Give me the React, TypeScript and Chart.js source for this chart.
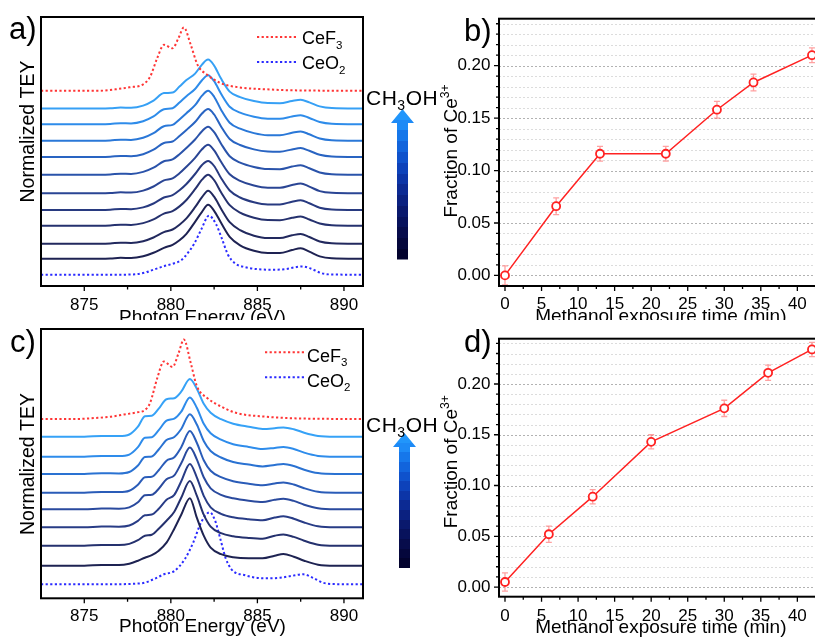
import React, { useEffect, useRef } from 'react';
import { Chart, registerables } from 'chart.js';

Chart.register(...registerables);

const FONT = '"Liberation Sans", Arial, Helvetica, sans-serif';
Chart.defaults.font.family = FONT;
Chart.defaults.color = '#000';

const RED_DOT = '#ff3535';
const BLUE_DOT = '#2b2bff';
const RED = '#ff2222';

// ---------------- panel a (spectra, intensities in a.u.) ----------------
const energyA = [872.5, 875, 876.5, 877.1, 877.7, 878.4, 879.0, 879.6, 880.1, 880.5, 880.9, 881.4, 881.8, 882.15, 882.5, 882.9, 883.4, 884.0, 884.8, 885.6, 886.3, 887.0, 887.5, 888.0, 888.6, 889.3, 891.1];
const a1 = [0, 0, 0.3, 1.0, 0.8, 3.0, 8.0, 15.5, 16.0, 22.0, 28.5, 35.0, 44.0, 49.0, 43.0, 30.0, 17.0, 11.5, 7.5, 5.5, 5.4, 7.6, 8.8, 6.2, 2.2, 0.5, 0];
const a2 = [0, 0, 0.3, 1.0, 0.8, 3.0, 7.8, 15.0, 16.0, 21.7, 28.0, 35.2, 44.0, 49.0, 43.0, 30.5, 17.5, 11.5, 7.5, 5.5, 5.4, 7.7, 9.0, 6.2, 2.2, 0.5, 0];
const a3 = [0, 0, 0.3, 1.0, 0.8, 2.9, 7.5, 14.5, 15.8, 21.3, 27.5, 35.5, 45.0, 50.0, 44.0, 31.0, 18.0, 12.0, 7.6, 5.5, 5.4, 7.9, 9.3, 6.4, 2.2, 0.5, 0];
const a4 = [0, 0, 0.3, 1.0, 0.8, 2.8, 7.3, 14.0, 15.5, 21.0, 27.0, 35.0, 43.5, 48.0, 42.5, 30.5, 18.0, 12.0, 7.6, 5.5, 5.3, 7.6, 8.9, 6.2, 2.2, 0.5, 0];
const a5 = [0, 0, 0.3, 1.0, 0.8, 2.8, 7.0, 13.5, 15.3, 20.5, 26.8, 35.2, 43.5, 48.0, 42.5, 31.0, 18.5, 12.0, 7.7, 5.6, 5.5, 8.1, 9.5, 6.5, 2.2, 0.5, 0];
const a6 = [0, 0, 0.3, 1.0, 0.8, 2.7, 6.8, 13.0, 15.0, 20.0, 26.5, 35.5, 44.0, 48.5, 43.0, 31.5, 19.0, 12.5, 7.8, 5.6, 5.6, 8.3, 9.8, 6.7, 2.2, 0.5, 0];
const a7 = [0, 0, 0.3, 1.0, 0.8, 2.6, 6.5, 12.5, 14.8, 19.7, 26.0, 36.0, 45.0, 49.0, 44.0, 32.0, 19.5, 12.5, 7.8, 5.6, 5.6, 8.3, 9.8, 6.7, 2.2, 0.5, 0];
const a8 = [0, 0, 0.3, 1.0, 0.8, 2.6, 6.3, 12.0, 14.5, 19.3, 25.7, 36.5, 46.0, 51.0, 45.5, 33.5, 20.5, 13.0, 7.9, 5.6, 5.5, 7.9, 9.1, 6.2, 2.2, 0.5, 0];
const a9 = [0, 0, 0.3, 1.0, 0.8, 2.5, 6.2, 11.5, 14.2, 19.0, 25.3, 36.5, 46.5, 53.0, 47.0, 35.0, 21.5, 13.5, 8.0, 5.6, 5.6, 8.4, 9.8, 6.7, 2.2, 0.5, 0];
const a10 = [0, 0, 0.3, 1.0, 0.8, 2.5, 6.0, 11.0, 14.0, 18.5, 25.0, 37.0, 47.0, 54.0, 48.0, 36.0, 22.0, 13.5, 8.0, 5.7, 5.7, 8.8, 10.6, 7.2, 2.4, 0.5, 0];
const cef3EnergyA = [872.5, 875.8, 876.8, 877.6, 878.4, 878.8, 879.2, 879.6, 880.1, 880.45, 880.75, 881.15, 881.55, 882.1, 882.9, 884.0, 885.5, 887.0, 891.1];
const cef3A = [0, 0, 1.5, 3.5, 6.5, 14, 32, 46, 42.5, 53, 63.3, 46, 25.7, 16, 7.5, 3.3, 1.5, 0.5, 0];
const ceo2EnergyA = [872.5, 877.0, 878.0, 878.6, 879.0, 879.6, 880.2, 880.6, 880.95, 881.35, 881.75, 882.2, 882.6, 882.95, 883.3, 883.7, 884.3, 884.9, 885.8, 886.6, 887.2, 887.6, 888.1, 888.7, 889.3, 891.1];
const ceo2A = [0, 0, 0.5, 2.5, 5.0, 8.5, 11.5, 14.5, 21, 31, 45, 59, 51, 36, 20, 11.5, 7.5, 5.7, 5.0, 5.5, 7.5, 8.3, 6.0, 1.5, 0.2, 0];
// vertical stacking offsets: CeF3, a1..a10, CeO2
const offsetsA = [195.2, 177.4, 161.8, 145.3, 129, 111.3, 92.7, 76, 60.3, 42.3, 27.2, 11.3];
const colorsA = ['#36a0f5', '#2e8cea', '#2a78d8', '#2964c2', '#2a53aa', '#2a4594', '#283a80', '#25316e', '#22295e', '#1e2252'];

// ---------------- panel c ----------------
const energyC = [872.5, 875.0, 876.0, 877.0, 877.6, 878.1, 878.5, 878.9, 879.3, 879.75, 880.2, 880.6, 881.1, 881.5, 881.9, 882.3, 882.9, 883.6, 884.5, 885.3, 886.0, 886.5, 887.1, 887.7, 888.5, 889.5, 891.1];
const c1 = [0, 0, 0.8, 0.6, 2.2, 10, 20.5, 21, 28, 37.5, 38.5, 45, 57.7, 48, 33, 24, 17.5, 13, 10, 7.8, 8.5, 9.3, 7.5, 4, 0.8, 0, 0];
const c2 = [0, 0, 0.8, 0.6, 2.1, 9.5, 19, 19.5, 26.5, 36, 38, 45, 59.3, 49, 33, 23.5, 17, 12.5, 9.8, 7.8, 8.8, 9.6, 7.7, 4.1, 0.8, 0, 0];
const c3 = [0, 0, 0.8, 0.6, 2.0, 8.5, 17, 17.5, 24.5, 34, 37, 45, 59.7, 49.5, 33, 23, 16.5, 12, 9.5, 7.6, 9, 10, 8, 4.3, 0.9, 0, 0];
const c4 = [0, 0, 0.8, 0.6, 2.0, 8, 15.5, 16, 22.5, 32, 35.5, 45.5, 61.7, 50, 32.5, 22, 15.5, 11.5, 9, 7.4, 9.2, 10.3, 8.2, 4.5, 0.9, 0, 0];
const c5 = [0, 0, 0.8, 0.6, 1.9, 7, 14, 14.5, 20.5, 30, 34, 46, 61.7, 50, 32, 21, 14.5, 11, 8.5, 7.2, 9.5, 10.6, 8.4, 4.6, 1, 0, 0];
const c6 = [0, 0, 0.8, 0.6, 1.8, 6.5, 12, 12.7, 18.5, 27.5, 32.5, 46, 63.3, 50, 31.5, 20, 13.5, 10, 8, 7, 9.7, 11, 8.6, 4.8, 1, 0, 0];
const c7 = [0, 0, 0.8, 0.6, 1.8, 5.5, 10, 11, 17, 25, 34, 48, 64.7, 50, 31, 19, 12.5, 9.5, 7.8, 7, 10, 11.3, 8.8, 5, 1, 0, 0];
const c8 = [0, 0, 0.7, 0.6, 2.0, 5, 8, 10.5, 15, 23, 37, 51, 67.5, 48, 30, 18, 11.5, 8.5, 7.5, 7.5, 10, 11.7, 9, 5, 1, 0, 0];
const cef3EnergyC = [872.5, 874.5, 875.6, 876.5, 877.3, 878.0, 878.5, 878.8, 879.2, 879.6, 880.1, 880.45, 880.75, 881.15, 881.5, 882.1, 882.9, 883.8, 885.5, 887.5, 891.1];
const cef3C = [0, 0, 1, 2.2, 4.5, 6.5, 9, 16, 40, 57.5, 52, 66, 79.5, 56, 33, 21, 12.5, 6, 2.3, 0.5, 0];
const ceo2EnergyC = [872.5, 876, 878.3, 879.0, 879.6, 880.2, 880.8, 881.3, 881.75, 882.25, 882.55, 882.85, 883.15, 883.5, 884.3, 885.4, 886.3, 887.0, 887.65, 888.2, 888.8, 889.5, 891.1];
const ceo2C = [0, 0, 1, 5, 10, 13.3, 25, 42, 62, 72, 64, 46, 27, 15, 9, 6, 6.5, 8.5, 10, 6.5, 1.5, 0.2, 0];
const offsetsC = [179.3, 161.6, 141.6, 124.3, 105.6, 89, 71, 52.6, 32.6, 14];
const colorsC = ['#36a2f7', '#2e8ceb', '#2a72d2', '#2a5cb8', '#2a4a9e', '#283c86', '#25316e', '#1e2352'];

const energyTicks = [875, 880, 885, 890];
const energyMinor = [877.5, 882.5, 887.5];

// ---------------- panels b and d ----------------
const timeB = [0, 7, 13, 22, 29, 34, 42];
const fracB = [0.0, 0.066, 0.116, 0.116, 0.158, 0.184, 0.21];
const errB = [0.009, 0.008, 0.007, 0.007, 0.008, 0.008, 0.007];
const timeD = [0, 6, 12, 20, 30, 36, 42];
const fracD = [0.005, 0.052, 0.089, 0.143, 0.176, 0.211, 0.234];
const errD = [0.009, 0.008, 0.007, 0.007, 0.008, 0.0075, 0.007];
const timeTicks = [0, 5, 10, 15, 20, 25, 30, 35, 40];
const timeMinor = [2.5, 7.5, 12.5, 17.5, 22.5, 27.5, 32.5, 37.5, 42.5];
const fracTicks = [0, 0.05, 0.1, 0.15, 0.2];
const fracGrid = [0, 0.01, 0.02, 0.03, 0.04, 0.05, 0.06, 0.07, 0.08, 0.09, 0.1, 0.11, 0.12, 0.13, 0.14, 0.15, 0.16, 0.17, 0.18, 0.19, 0.2, 0.21, 0.22, 0.23, 0.24];

type Part = { t: string; m?: 'sub' | 'sup' };
function drawRich(ctx: CanvasRenderingContext2D, parts: Part[], x: number, y: number, size: number, align: 'left' | 'center', rot = 0) {
  ctx.save();
  ctx.translate(x, y);
  if (rot) ctx.rotate(rot);
  ctx.textBaseline = 'alphabetic';
  ctx.textAlign = 'left';
  ctx.fillStyle = '#000';
  const sizes = parts.map((p) => (p.m ? size * 0.64 : size));
  const widths = parts.map((p, i) => {
    ctx.font = `${sizes[i]}px ${FONT}`;
    return ctx.measureText(p.t).width;
  });
  const total = widths.reduce((s, w) => s + w, 0);
  let cx = align === 'center' ? -total / 2 : 0;
  parts.forEach((p, i) => {
    ctx.font = `${sizes[i]}px ${FONT}`;
    const dy = p.m === 'sub' ? size * 0.24 : p.m === 'sup' ? -size * 0.42 : 0;
    ctx.fillText(p.t, cx, dy);
    cx += widths[i];
  });
  ctx.restore();
}

type SpecDeco = {
  label: string;
  labelXY: [number, number];
  yTitleXY: [number, number];
  xTitleXY: [number, number];
  legX0: number;
  legX1: number;
  legTX: number;
  legY: [number, number];
  legTY: [number, number];
};

function spectraDecor(d: SpecDeco) {
  return {
    id: 'spectraDecor',
    afterDraw(chart: any) {
      const { ctx, chartArea: a } = chart;
      const xs = chart.scales.x;
      ctx.save();
      ctx.setLineDash([]);
      ctx.strokeStyle = '#000';
      ctx.lineWidth = 1.3;
      ctx.beginPath();
      energyTicks.forEach((v) => {
        const p = xs.getPixelForValue(v);
        ctx.moveTo(p, a.bottom);
        ctx.lineTo(p, a.bottom + 5);
      });
      energyMinor.forEach((v) => {
        const p = xs.getPixelForValue(v);
        ctx.moveTo(p, a.bottom);
        ctx.lineTo(p, a.bottom + 3.5);
      });
      ctx.stroke();
      ctx.lineWidth = 2;
      ctx.strokeRect(a.left, a.top, a.right - a.left, a.bottom - a.top);
      // legend
      ctx.lineWidth = 2;
      ctx.setLineDash([2.2, 2.4]);
      [RED_DOT, BLUE_DOT].forEach((c, i) => {
        ctx.strokeStyle = c;
        ctx.beginPath();
        ctx.moveTo(d.legX0, d.legY[i]);
        ctx.lineTo(d.legX1, d.legY[i]);
        ctx.stroke();
      });
      ctx.setLineDash([]);
      drawRich(ctx, [{ t: 'CeF' }, { t: '3', m: 'sub' }], d.legTX, d.legTY[0], 18, 'left');
      drawRich(ctx, [{ t: 'CeO' }, { t: '2', m: 'sub' }], d.legTX, d.legTY[1], 18, 'left');
      drawRich(ctx, [{ t: d.label }], d.labelXY[0], d.labelXY[1], 31, 'left');
      drawRich(ctx, [{ t: 'Normalized TEY' }], d.yTitleXY[0], d.yTitleXY[1], 19.5, 'center', -Math.PI / 2);
      drawRich(ctx, [{ t: 'Photon Energy (eV)' }], d.xTitleXY[0], d.xTitleXY[1], 19, 'center');
      ctx.restore();
    },
  };
}

function stack(xs: number[], ys: number[], off: number) {
  return xs.map((x, i) => ({ x, y: ys[i] + off }));
}

type SpecOpts = {
  energy: number[];
  rows: number[][];
  colors: string[];
  offsets: number[];
  cef3E: number[];
  cef3: number[];
  ceo2E: number[];
  ceo2: number[];
  W: number;
  H: number;
  top: number;
  bottom: number;
  left: number;
  right: number;
  yMax: number;
  tickPad: number;
  deco: SpecDeco;
};

function spectraConfig(o: SpecOpts): any {
  const datasets: any[] = [];
  datasets.push({
    data: stack(o.cef3E, o.cef3, o.offsets[0]),
    borderColor: RED_DOT,
    borderDash: [2.2, 2.4],
    borderWidth: 2,
  });
  o.rows.forEach((r, i) =>
    datasets.push({ data: stack(o.energy, r, o.offsets[i + 1]), borderColor: o.colors[i], borderWidth: 2 })
  );
  datasets.push({
    data: stack(o.ceo2E, o.ceo2, o.offsets[o.offsets.length - 1]),
    borderColor: BLUE_DOT,
    borderDash: [2.2, 2.4],
    borderWidth: 2,
  });
  return {
    type: 'line',
    data: { datasets },
    options: {
      responsive: false,
      animation: false,
      devicePixelRatio: 1,
      layout: { autoPadding: false, padding: { left: 0, top: o.top, right: o.W - o.right, bottom: 0 } },
      plugins: { legend: { display: false }, tooltip: { enabled: false } },
      elements: { point: { radius: 0 }, line: { cubicInterpolationMode: 'monotone', fill: false } },
      scales: {
        x: {
          type: 'linear',
          min: 872.5,
          max: 891.1,
          afterBuildTicks: (s: any) => {
            s.ticks = energyTicks.map((v) => ({ value: v }));
          },
          afterFit: (s: any) => {
            s.height = o.H - o.bottom;
          },
          grid: { display: false, drawTicks: false },
          border: { display: false },
          ticks: {
            font: { size: 17 },
            color: '#000',
            padding: o.tickPad,
            autoSkip: false,
            maxRotation: 0,
            callback: (v: any) => String(v),
          },
        },
        y: {
          type: 'linear',
          min: 0,
          max: o.yMax,
          afterFit: (s: any) => {
            s.width = o.left;
          },
          grid: { display: false, drawTicks: false },
          border: { display: false },
          ticks: { display: false },
        },
      },
    },
    plugins: [spectraDecor(o.deco)],
  };
}

type FracDeco = {
  label: string;
  labelXY: [number, number];
  yTitleXY: [number, number];
  xTitleXY: [number, number];
};

function fracDecor(t: number[], f: number[], e: number[], d: FracDeco) {
  return {
    id: 'fracDecor',
    beforeDatasetsDraw(chart: any) {
      const { ctx, chartArea: a } = chart;
      const { x, y } = chart.scales;
      ctx.save();
      ctx.lineWidth = 1;
      ctx.setLineDash([2, 2]);
      fracGrid.forEach((v, i) => {
        const py = Math.round(y.getPixelForValue(v)) + 0.5;
        ctx.strokeStyle = i % 5 === 0 ? '#b2b2b2' : '#dcdcdc';
        ctx.beginPath();
        ctx.moveTo(a.left, py);
        ctx.lineTo(a.right, py);
        ctx.stroke();
      });
      ctx.setLineDash([]);
      ctx.strokeStyle = 'rgba(255,110,110,0.65)';
      ctx.lineWidth = 1.3;
      t.forEach((tv, i) => {
        const px = x.getPixelForValue(tv);
        const y1 = y.getPixelForValue(f[i] - e[i]);
        const y2 = y.getPixelForValue(f[i] + e[i]);
        ctx.beginPath();
        ctx.moveTo(px, y1);
        ctx.lineTo(px, y2);
        ctx.moveTo(px - 3, y1);
        ctx.lineTo(px + 3, y1);
        ctx.moveTo(px - 3, y2);
        ctx.lineTo(px + 3, y2);
        ctx.stroke();
      });
      ctx.restore();
    },
    afterDraw(chart: any) {
      const { ctx, chartArea: a } = chart;
      const { x, y } = chart.scales;
      ctx.save();
      ctx.strokeStyle = '#000';
      ctx.lineWidth = 1.3;
      ctx.beginPath();
      fracGrid.forEach((v, i) => {
        const py = y.getPixelForValue(v);
        const len = i % 5 === 0 ? 5 : 3;
        ctx.moveTo(a.left, py);
        ctx.lineTo(a.left - len, py);
      });
      timeTicks.forEach((v) => {
        const px = x.getPixelForValue(v);
        ctx.moveTo(px, a.bottom);
        ctx.lineTo(px, a.bottom + 5);
      });
      timeMinor.forEach((v) => {
        const px = x.getPixelForValue(v);
        ctx.moveTo(px, a.bottom);
        ctx.lineTo(px, a.bottom + 3);
      });
      ctx.stroke();
      ctx.lineWidth = 2;
      ctx.strokeRect(a.left, a.top, a.right - a.left, a.bottom - a.top);
      drawRich(ctx, [{ t: d.label }], d.labelXY[0], d.labelXY[1], 31, 'left');
      drawRich(ctx, [{ t: 'Fraction of Ce' }, { t: '3+', m: 'sup' }], d.yTitleXY[0], d.yTitleXY[1], 19, 'center', -Math.PI / 2);
      drawRich(ctx, [{ t: 'Methanol exposure time (min)' }], d.xTitleXY[0], d.xTitleXY[1], 19, 'center');
      ctx.restore();
    },
  };
}

type FracOpts = {
  t: number[];
  f: number[];
  e: number[];
  W: number;
  H: number;
  top: number;
  bottom: number;
  left: number;
  right: number;
  yMin: number;
  yMax: number;
  xPad: number;
  deco: FracDeco;
};

function fracConfig(o: FracOpts): any {
  return {
    type: 'line',
    data: {
      datasets: [
        {
          data: o.t.map((v, i) => ({ x: v, y: o.f[i] })),
          borderColor: RED,
          borderWidth: 1.5,
          pointRadius: 4,
          pointBorderWidth: 1.8,
          pointBackgroundColor: '#ffffff',
          pointBorderColor: RED,
          tension: 0,
        },
      ],
    },
    options: {
      responsive: false,
      animation: false,
      devicePixelRatio: 1,
      layout: { autoPadding: false, padding: { left: 0, top: o.top, right: o.W - o.right, bottom: 0 } },
      plugins: { legend: { display: false }, tooltip: { enabled: false } },
      scales: {
        x: {
          type: 'linear',
          min: -0.82,
          max: 43.92,
          afterBuildTicks: (s: any) => {
            s.ticks = timeTicks.map((v) => ({ value: v }));
          },
          afterFit: (s: any) => {
            s.height = o.H - o.bottom;
          },
          grid: { display: false, drawTicks: false },
          border: { display: false },
          ticks: { font: { size: 17 }, color: '#000', padding: o.xPad, autoSkip: false, maxRotation: 0, callback: (v: any) => String(v) },
        },
        y: {
          type: 'linear',
          min: o.yMin,
          max: o.yMax,
          afterBuildTicks: (s: any) => {
            s.ticks = fracTicks.map((v) => ({ value: v }));
          },
          afterFit: (s: any) => {
            s.width = o.left;
          },
          grid: { display: false, drawTicks: false },
          border: { display: false },
          ticks: { font: { size: 17 }, color: '#000', padding: 8.5, callback: (v: any) => Number(v).toFixed(2) },
        },
      },
    },
    plugins: [fracDecor(o.t, o.f, o.e, o.deco)],
  };
}

function ChartCanvas({ W, H, build }: { W: number; H: number; build: () => any }) {
  const ref = useRef<HTMLCanvasElement>(null);
  useEffect(() => {
    const chart = new Chart(ref.current as HTMLCanvasElement, build());
    return () => chart.destroy();
  }, []);
  return <canvas ref={ref} width={W} height={H} style={{ display: 'block', width: W, height: H }} />;
}

const buildA = () =>
  spectraConfig({
    energy: energyA,
    rows: [a1, a2, a3, a4, a5, a6, a7, a8, a9, a10],
    colors: colorsA,
    offsets: offsetsA,
    cef3E: cef3EnergyA,
    cef3: cef3A,
    ceo2E: ceo2EnergyA,
    ceo2: ceo2A,
    W: 370,
    H: 330,
    top: 17,
    bottom: 286,
    left: 41,
    right: 363,
    yMax: 269,
    tickPad: 9.5,
    deco: {
      label: 'a)',
      labelXY: [9, 39],
      yTitleXY: [33.5, 131.5],
      xTitleXY: [202.5, 323],
      legX0: 257,
      legX1: 297,
      legTX: 302,
      legY: [37, 62],
      legTY: [44.3, 69.3],
    },
  });

const buildC = () =>
  spectraConfig({
    energy: energyC,
    rows: [c1, c2, c3, c4, c5, c6, c7, c8],
    colors: colorsC,
    offsets: offsetsC,
    cef3E: cef3EnergyC,
    cef3: cef3C,
    ceo2E: ceo2EnergyC,
    ceo2: ceo2C,
    W: 370,
    H: 330,
    top: 9,
    bottom: 278.3,
    left: 41,
    right: 363,
    yMax: 269.3,
    tickPad: 7.5,
    deco: {
      label: 'c)',
      labelXY: [10, 31.7],
      yTitleXY: [33.5, 144],
      xTitleXY: [202.5, 312],
      legX0: 265,
      legX1: 305,
      legTX: 307,
      legY: [32.3, 57.3],
      legTY: [41.7, 66.7],
    },
  });

const buildB = () =>
  fracConfig({
    t: timeB,
    f: fracB,
    e: errB,
    W: 440,
    H: 330,
    top: 17,
    bottom: 286,
    left: 99,
    right: 426,
    yMin: -0.0101,
    yMax: 0.2448,
    xPad: 8.5,
    deco: { label: 'b)', labelXY: [64, 40.5], yTitleXY: [56.5, 151], xTitleXY: [260.8, 322] },
  });

const buildD = () =>
  fracConfig({
    t: timeD,
    f: fracD,
    e: errD,
    W: 440,
    H: 330,
    top: 9,
    bottom: 276.7,
    left: 99,
    right: 426,
    yMin: -0.0095,
    yMax: 0.2446,
    xPad: 9,
    deco: { label: 'd)', labelXY: [64, 31.7], yTitleXY: [56.5, 141.7], xTitleXY: [260.8, 313] },
  });

const BANDS = ['#03032e', '#05073c', '#070c4b', '#08125c', '#0a196d', '#0b2180', '#0c2a93', '#0c35a7', '#0d42ba', '#0f52cc', '#1264dc', '#1677ea', '#1d8af6', '#2196fb'];

function Arrow({ id, cx, tip, base, bottom }: { id: string; cx: number; tip: number; base: number; bottom: number }) {
  const hw = 5.5;
  const hh = 11.5;
  const pts = [
    [cx - hw, bottom],
    [cx - hw, base],
    [cx - hh, base],
    [cx, tip],
    [cx + hh, base],
    [cx + hw, base],
    [cx + hw, bottom],
  ]
    .map((p) => p.join(','))
    .join(' ');
  const n = BANDS.length;
  return (
    <g>
      <defs>
        <linearGradient id={id} x1="0" y1="1" x2="0" y2="0">
          {BANDS.map((c, i) => (
            <React.Fragment key={i}>
              <stop offset={i / n} stopColor={c} />
              <stop offset={(i + 1) / n} stopColor={c} />
            </React.Fragment>
          ))}
        </linearGradient>
      </defs>
      <polygon points={pts} fill={`url(#${id})`} />
    </g>
  );
}

function Methanol({ x, y }: { x: number; y: number }) {
  return (
    <text x={x} y={y} fontFamily={FONT} fontSize={21} letterSpacing={0.5} fill="#000">
      CH
      <tspan dy={5} fontSize={14}>
        3
      </tspan>
      <tspan dy={-5}>OH</tspan>
    </text>
  );
}

export default function App() {
  return (
    <div style={{ position: 'fixed', left: 0, top: 0, width: 815, height: 637, overflow: 'hidden', background: '#fff' }}>
      <div style={{ position: 'absolute', left: 0, top: 0, width: 370, height: 320, overflow: 'hidden' }}>
        <ChartCanvas W={370} H={330} build={buildA} />
      </div>
      <div style={{ position: 'absolute', left: 400, top: 0, width: 440, height: 320, overflow: 'hidden' }}>
        <ChartCanvas W={440} H={330} build={buildB} />
      </div>
      <div style={{ position: 'absolute', left: 0, top: 320, width: 370, height: 317, overflow: 'hidden' }}>
        <ChartCanvas W={370} H={330} build={buildC} />
      </div>
      <div style={{ position: 'absolute', left: 400, top: 320, width: 440, height: 317, overflow: 'hidden' }}>
        <ChartCanvas W={440} H={330} build={buildD} />
      </div>
      <svg width={815} height={637} style={{ position: 'absolute', left: 0, top: 0, pointerEvents: 'none' }}>
        <Arrow id="gradA" cx={402.5} tip={109} base={123} bottom={259.5} />
        <Arrow id="gradC" cx={404.5} tip={433} base={447} bottom={568} />
        <Methanol x={366} y={105} />
        <Methanol x={366} y={431.7} />
      </svg>
    </div>
  );
}
